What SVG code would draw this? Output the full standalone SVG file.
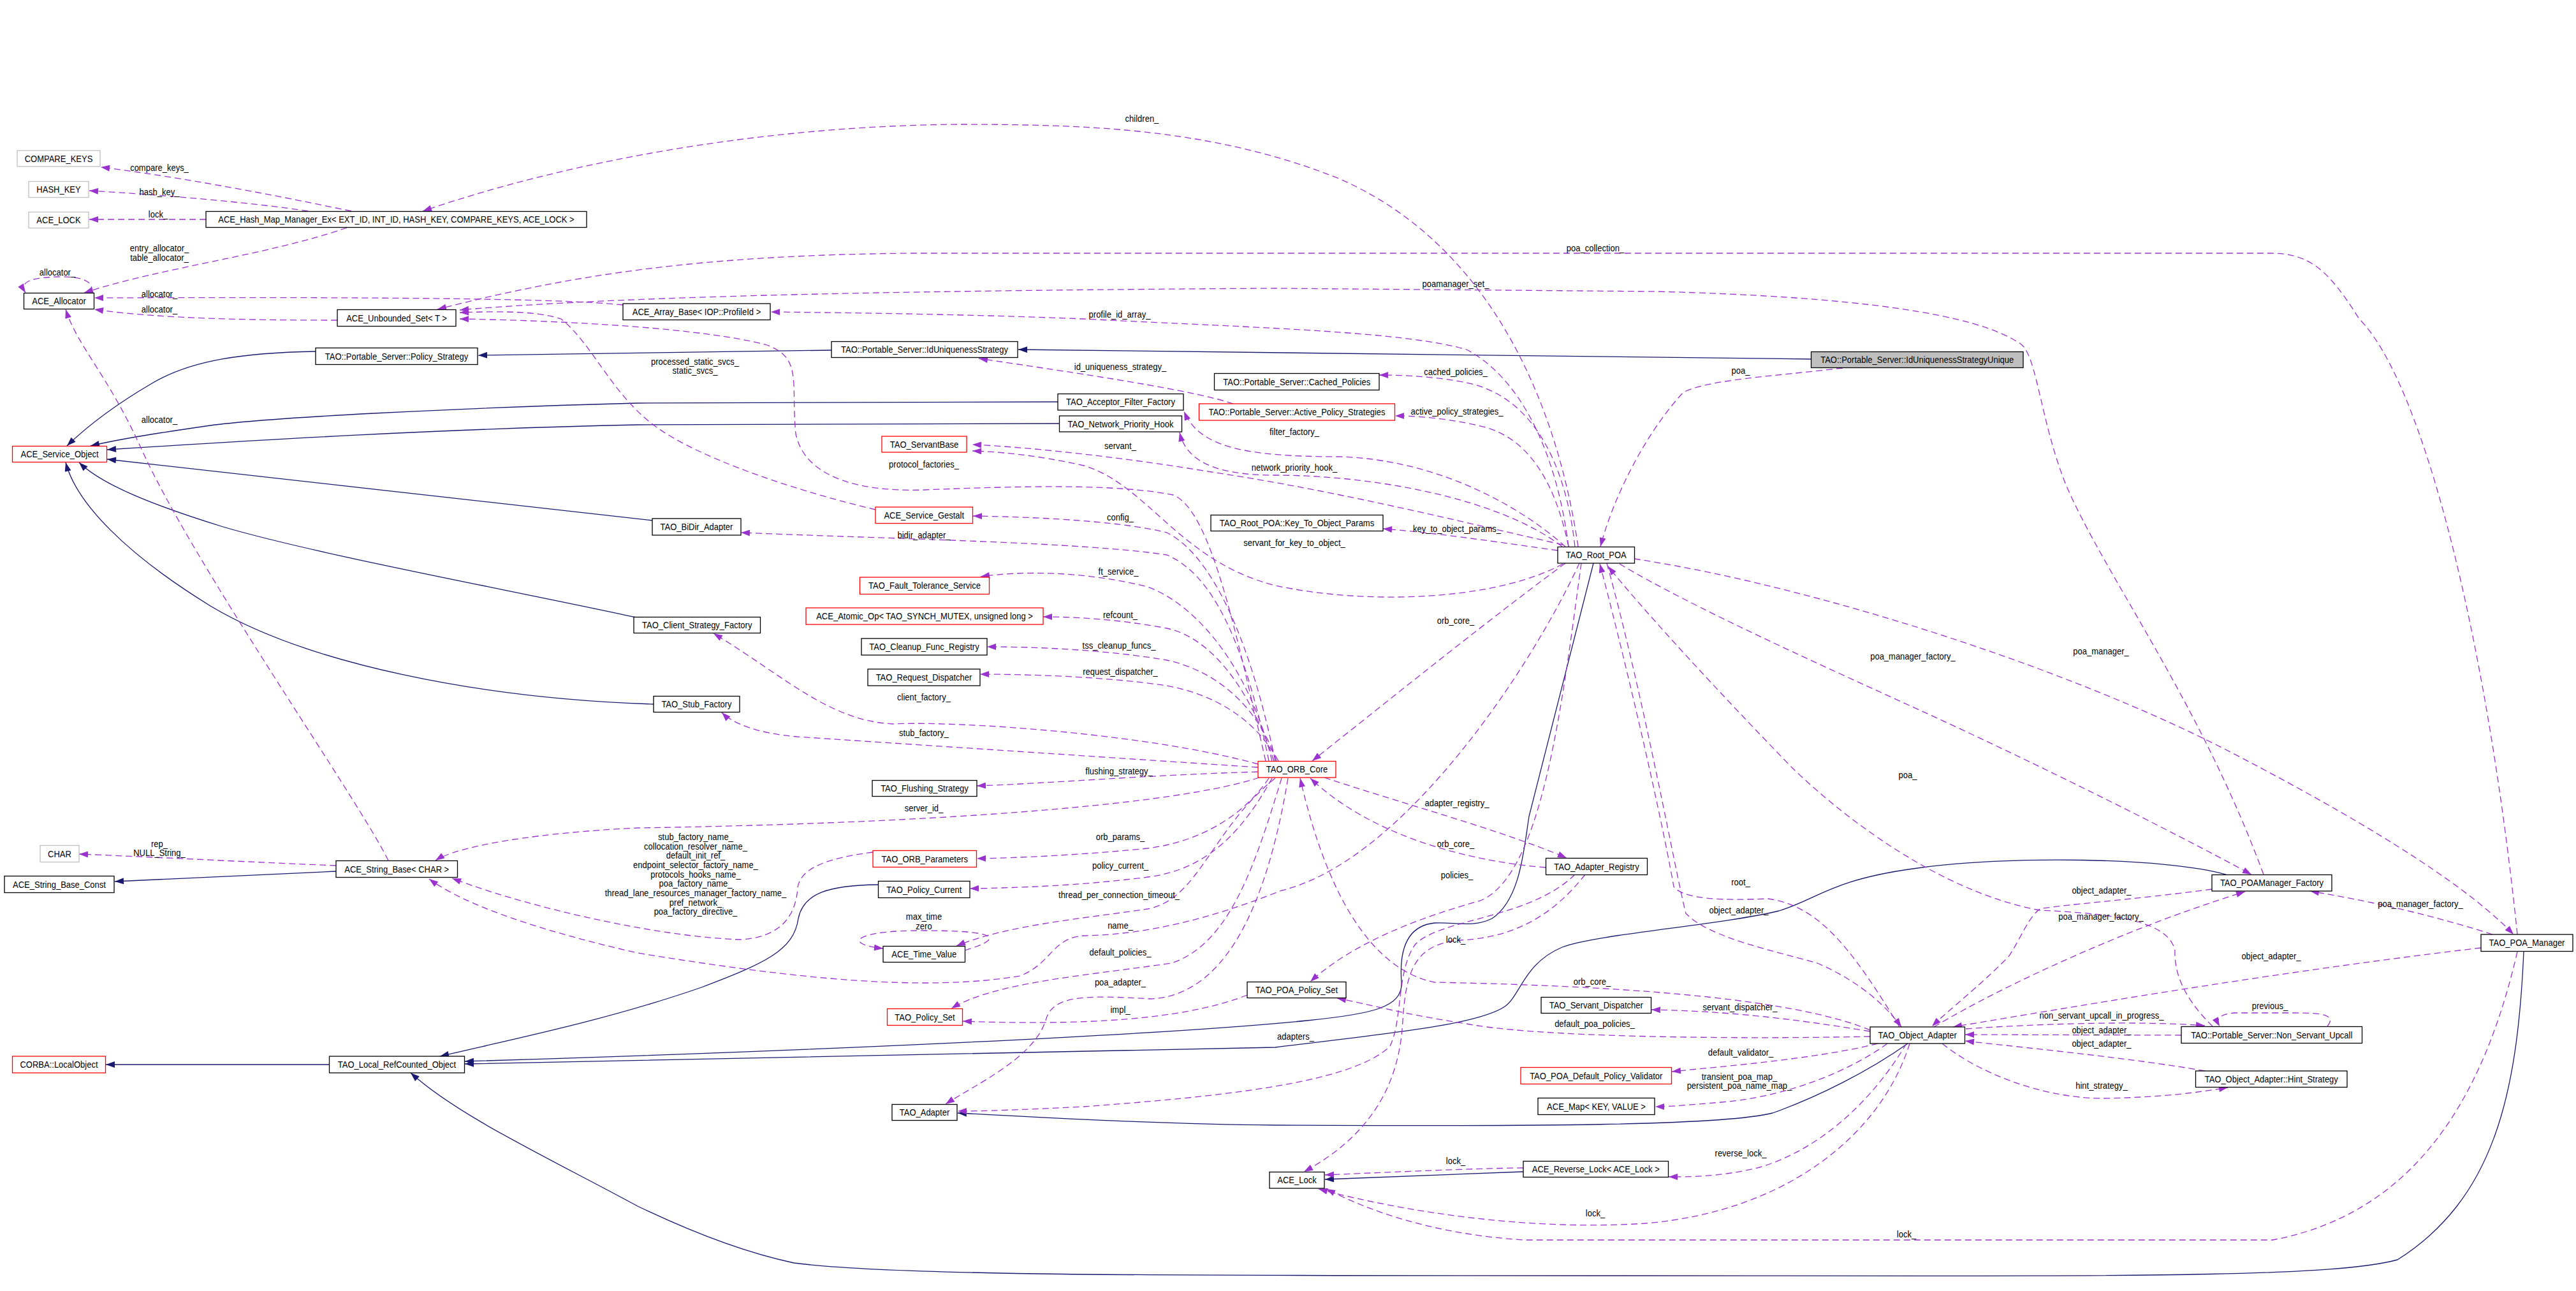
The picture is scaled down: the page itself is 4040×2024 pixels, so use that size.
<svg xmlns="http://www.w3.org/2000/svg" width="4040" height="2024" viewBox="0 0 4040 2024">
<style>
text{font-family:"Liberation Sans",Arial,sans-serif;font-size:13px;fill:#000;transform-box:fill-box;transform-origin:center;transform:scaleY(1.15)}
.n text{text-anchor:middle}
.b{fill:#fff;stroke:#000;stroke-width:1.3}
.r{fill:#fff;stroke:#f00;stroke-width:1.3}
.g{fill:#fff;stroke:#bfbfbf;stroke-width:1.3}
.s{fill:none;stroke:#191970;stroke-width:1.3}
.d{fill:none;stroke:#9a32cd;stroke-width:1.3;stroke-dasharray:10,6}
.l{text-anchor:middle}
</style>
<defs>
<marker id="ap" viewBox="0 0 14 10" refX="14" refY="5" markerWidth="15" markerHeight="10" markerUnits="userSpaceOnUse" orient="auto"><path d="M0,0 L14,5 L0,10 z" fill="#9a32cd"/></marker>
<marker id="ab" viewBox="0 0 14 10" refX="14" refY="5" markerWidth="15" markerHeight="10" markerUnits="userSpaceOnUse" orient="auto"><path d="M0,0 L14,5 L0,10 z" fill="#191970"/></marker>
</defs>
<rect width="4040" height="2024" fill="#fff"/>
<g id="connectors">
<path class="s" marker-end="url(#ab)" d="M2840,563 L1597,548"/>
<path class="s" marker-end="url(#ab)" d="M1304,549 L750,557"/>
<path class="s" marker-end="url(#ab)" d="M495,551 C380,553 300,565 240,600 C180,635 135,670 105,699"/>
<path class="s" marker-end="url(#ab)" d="M1659,630 L1000,632 C700,640 420,655 330,667 C240,680 190,688 142,699"/>
<path class="s" marker-end="url(#ab)" d="M1661,664 L1000,666 C700,672 400,690 168,705"/>
<path class="s" marker-end="url(#ab)" d="M1023,816 C800,790 500,756 168,720"/>
<path class="s" marker-end="url(#ab)" d="M998,968 C800,925 500,870 350,826 C240,792 160,760 124,725"/>
<path class="s" marker-end="url(#ab)" d="M1025,1104 C750,1095 480,1040 330,950 C200,870 120,790 103,725"/>
<path class="s" marker-end="url(#ab)" d="M527,1366 L180,1382"/>
<path class="s" marker-end="url(#ab)" d="M516,1669 L166,1669"/>
<path class="s" marker-end="url(#ab)" d="M1377,1387 C1300,1388 1260,1400 1252,1440 C1245,1490 1200,1510 1100,1548 C950,1600 800,1630 690,1656"/>
<path class="s" marker-end="url(#ab)" d="M2499,883 L2398,1280 C2390,1330 2385,1410 2340,1440 C2310,1455 2280,1445 2250,1447 C2200,1452 2195,1500 2198,1540 C2200,1580 2150,1590 2050,1600 C1800,1625 1200,1650 729,1664"/>
<path class="s" marker-end="url(#ab)" d="M3491,1371 C3400,1345 3150,1340 3000,1362 C2870,1380 2850,1410 2790,1428 C2700,1450 2500,1465 2450,1485 C2390,1510 2385,1560 2360,1578 C2320,1605 2200,1618 2000,1642 L729,1668"/>
<path class="s" marker-end="url(#ab)" d="M3958,1492 C3948,1720 3910,1880 3760,1975 C3650,2005 3300,2000 2500,2000 C1800,2000 1400,2000 1245,1980 C1150,1960 1050,1915 1000,1891 C850,1810 720,1750 644,1682"/>
<path class="s" marker-end="url(#ab)" d="M2992,1636 C2930,1680 2850,1720 2780,1745 C2700,1765 2400,1766 2000,1764 C1800,1762 1600,1750 1502,1745"/>
<path class="s" marker-end="url(#ab)" d="M2389,1837 L2078,1849"/>

<path class="d" marker-end="url(#ap)" d="M551,331 C450,310 300,280 158,262"/>
<text class="l" x="250" y="267">compare_keys_</text>
<path class="d" marker-end="url(#ap)" d="M483,331 C400,318 250,305 140,299"/>
<text class="l" x="250" y="305">hash_key_</text>
<path class="d" marker-end="url(#ap)" d="M323,344 L140,344"/>
<text class="l" x="248" y="340">lock_</text>
<path class="d" marker-end="url(#ap)" d="M544,357 C420,400 250,420 132,459"/>
<text class="l" x="250" y="393">entry_allocator_</text>
<text class="l" x="250" y="408">table_allocator_</text>
<path class="d" marker-end="url(#ap)" d="M143,459 C150,438 120,433 90,434 C55,435 28,440 40,459"/>
<text class="l" x="90" y="431">allocator_</text>
<path class="d" marker-end="url(#ap)" d="M977,478 C900,470 700,465 148,467"/>
<text class="l" x="250" y="465">allocator_</text>
<path class="d" marker-end="url(#ap)" d="M529,502 C400,502 250,500 148,485"/>
<text class="l" x="250" y="489">allocator_</text>
<path class="d" marker-end="url(#ap)" d="M609,1349 C560,1250 300,880 220,700 C170,590 120,540 103,485"/>
<text class="l" x="250" y="662">allocator_</text>
<path class="d" marker-end="url(#ap)" d="M527,1357 C400,1352 250,1344 124,1339"/>
<text class="l" x="250" y="1327">rep_</text>
<text class="l" x="250" y="1341">NULL_String_</text>

<path class="d" marker-end="url(#ap)" d="M2475,857 C2440,620 2330,380 2100,280 C1900,200 1700,195 1500,195 C1200,198 900,250 663,331"/>
<text class="l" x="1791" y="190">children_</text>
<path class="d" marker-end="url(#ap)" d="M3948,1465 C3900,1000 3800,600 3700,500 C3650,420 3620,397 3560,397 L1430,397 C1100,400 900,430 686,485"/>
<text class="l" x="2502" y="393">poa_collection_</text>
<path class="d" marker-end="url(#ap)" d="M3550,1371 C3450,1100 3300,900 3240,760 C3200,660 3195,560 3170,540 C3100,490 2900,465 2600,457 L2000,452 C1500,455 1000,462 721,486"/>
<text class="l" x="2283" y="449">poamanager_set_</text>
<path class="d" marker-end="url(#ap)" d="M1373,799 C1250,770 1100,720 1030,670 C960,620 930,540 880,500 C840,487 780,488 721,490"/>
<text class="l" x="1090" y="571">processed_static_svcs_</text>
<text class="l" x="1090" y="585">static_svcs_</text>
<path class="d" marker-end="url(#ap)" d="M1985,1193 C1940,1000 1900,800 1840,776 C1750,758 1600,762 1450,768 C1330,772 1260,740 1248,680 C1240,600 1260,560 1200,540 C1100,515 900,503 721,500"/>
<text class="l" x="1449" y="732">protocol_factories_</text>
<path class="d" marker-end="url(#ap)" d="M2460,857 C2440,700 2380,590 2300,548 C2200,520 2000,515 1700,500 C1500,492 1300,490 1209,489"/>
<text class="l" x="1756" y="497">profile_id_array_</text>
<path class="d" marker-end="url(#ap)" d="M1934,633 C1880,615 1760,595 1535,562"/>
<text class="l" x="1757" y="579">id_uniqueness_strategy_</text>
<path class="d" marker-end="url(#ap)" d="M2470,857 C2455,720 2400,620 2300,600 C2250,590 2200,588 2163,588"/>
<text class="l" x="2283" y="587">cached_policies_</text>
<path class="d" marker-end="url(#ap)" d="M2460,857 C2440,760 2400,690 2330,670 C2270,655 2220,652 2188,652"/>
<text class="l" x="2285" y="649">active_policy_strategies_</text>
<path class="d" marker-end="url(#ap)" d="M2455,857 C2380,790 2250,720 2100,716 C1950,716 1880,700 1857,645"/>
<text class="l" x="2030" y="681">filter_factory_</text>
<path class="d" marker-end="url(#ap)" d="M2450,857 C2350,780 2150,745 2000,745 C1900,745 1860,720 1850,678"/>
<text class="l" x="2030" y="737">network_priority_hook_</text>
<path class="d" marker-end="url(#ap)" d="M2451,854 C2300,820 2100,770 1900,740 C1750,715 1600,700 1525,697"/>
<text class="l" x="1757" y="703">servant_</text>
<path class="d" marker-end="url(#ap)" d="M2451,884 C2350,940 2150,950 2000,918 C1850,880 1800,760 1700,730 C1620,712 1560,708 1525,707"/>
<text class="l" x="2030" y="855">servant_for_key_to_object_</text>
<path class="d" marker-end="url(#ap)" d="M2890,577 C2780,590 2680,595 2640,615 C2580,680 2530,780 2510,857"/>
<text class="l" x="2730" y="585">poa_</text>
<path class="d" marker-end="url(#ap)" d="M2443,863 C2350,850 2250,835 2169,829"/>
<text class="l" x="2285" y="833">key_to_object_params_</text>

<path class="d" marker-end="url(#ap)" d="M2000,1193 C1960,1000 1900,870 1830,835 C1750,815 1600,810 1526,809"/>
<text class="l" x="1757" y="815">config_</text>
<path class="d" marker-end="url(#ap)" d="M1990,1193 C1950,1000 1900,900 1830,870 C1700,850 1400,845 1162,835"/>
<text class="l" x="1449" y="843">bidir_adapter_</text>
<path class="d" marker-end="url(#ap)" d="M1995,1193 C1960,1050 1880,950 1800,920 C1700,895 1600,895 1538,904"/>
<text class="l" x="1754" y="900">ft_service_</text>
<path class="d" marker-end="url(#ap)" d="M1998,1193 C1960,1080 1900,1000 1830,985 C1750,970 1680,967 1636,967"/>
<text class="l" x="1757" y="968">refcount_</text>
<path class="d" marker-end="url(#ap)" d="M2002,1193 C1970,1100 1900,1050 1830,1035 C1730,1018 1620,1014 1548,1014"/>
<text class="l" x="1755" y="1016">tss_cleanup_funcs_</text>
<path class="d" marker-end="url(#ap)" d="M2005,1193 C1970,1130 1910,1090 1830,1075 C1730,1060 1600,1057 1537,1057"/>
<text class="l" x="1757" y="1057">request_dispatcher_</text>
<path class="d" marker-end="url(#ap)" d="M1973,1198 C1800,1150 1500,1130 1400,1135 C1300,1130 1230,1060 1119,993"/>
<text class="l" x="1449" y="1097">client_factory_</text>
<path class="d" marker-end="url(#ap)" d="M1973,1203 C1700,1185 1400,1165 1250,1155 C1190,1150 1150,1135 1132,1117"/>
<text class="l" x="1449" y="1153">stub_factory_</text>
<path class="d" marker-end="url(#ap)" d="M1973,1210 C1800,1215 1650,1228 1532,1232"/>
<text class="l" x="1755" y="1213">flushing_strategy_</text>
<path class="d" marker-end="url(#ap)" d="M1975,1219 C1850,1260 1500,1290 1000,1298 C850,1305 720,1325 683,1349"/>
<text class="l" x="1449" y="1271">server_id_</text>
<path class="d" marker-end="url(#ap)" d="M2455,883 C2350,960 2200,1080 2058,1193"/>
<text class="l" x="2283" y="977">orb_core_</text>
<path class="d" marker-end="url(#ap)" d="M2077,1219 C2200,1260 2350,1300 2457,1345"/>
<text class="l" x="2285" y="1263">adapter_registry_</text>
<path class="d" marker-end="url(#ap)" d="M2424,1360 C2300,1350 2150,1310 2055,1220"/>
<text class="l" x="2283" y="1327">orb_core_</text>
<path class="d" marker-end="url(#ap)" d="M2480,883 C2450,1100 2420,1370 2322,1412 C2220,1440 2120,1480 2055,1539"/>
<text class="l" x="2285" y="1376">policies_</text>
<path class="d" marker-end="url(#ap)" d="M2486,1371 C2440,1430 2380,1470 2290,1474 C2220,1480 2205,1520 2200,1600 C2195,1700 2150,1780 2045,1837"/>
<text class="l" x="2283" y="1477">lock_</text>
<path class="d" marker-end="url(#ap)" d="M2470,1371 C2400,1440 2260,1440 2220,1480 C2190,1520 2200,1600 2180,1640 C2120,1700 1900,1720 1700,1735 C1600,1740 1540,1742 1502,1742"/>
<text class="l" x="2032" y="1629">adapters_</text>
<path class="d" marker-end="url(#ap)" d="M2979,1610 C2900,1480 2850,1420 2773,1409 C2700,1412 2640,1410 2625,1390 C2600,1250 2540,1000 2509,884"/>
<text class="l" x="2730" y="1387">root_</text>
<path class="d" marker-end="url(#ap)" d="M2520,883 C2580,1100 2630,1380 2644,1432 C2680,1470 2780,1490 2850,1510 C2920,1540 2960,1580 2982,1610"/>
<text class="l" x="2727" y="1431">object_adapter_</text>
<path class="d" marker-end="url(#ap)" d="M2933,1615 C2800,1560 2500,1545 2250,1540 C2150,1520 2080,1400 2039,1220"/>
<text class="l" x="2497" y="1543">orb_core_</text>
<path class="d" marker-end="url(#ap)" d="M2933,1617 C2800,1595 2700,1585 2590,1583"/>
<text class="l" x="2729" y="1583">servant_dispatcher_</text>
<path class="d" marker-end="url(#ap)" d="M2933,1625 C2700,1630 2400,1625 2300,1605 C2200,1590 2150,1575 2097,1565"/>
<text class="l" x="2501" y="1609">default_poa_policies_</text>
<path class="d" marker-end="url(#ap)" d="M2945,1636 C2850,1660 2700,1672 2622,1680"/>
<text class="l" x="2730" y="1654">default_validator_</text>
<path class="d" marker-end="url(#ap)" d="M2960,1636 C2900,1680 2800,1720 2700,1728 C2650,1732 2620,1735 2596,1735"/>
<text class="l" x="2728" y="1692">transient_poa_map_</text>
<text class="l" x="2728" y="1706">persistent_poa_name_map_</text>
<path class="d" marker-end="url(#ap)" d="M2990,1636 C2940,1720 2860,1800 2760,1830 C2700,1845 2650,1845 2617,1845"/>
<text class="l" x="2730" y="1812">reverse_lock_</text>
<path class="d" marker-end="url(#ap)" d="M2995,1636 C2950,1780 2800,1900 2580,1918 C2400,1930 2200,1900 2068,1864"/>
<text class="l" x="2502" y="1906">lock_</text>
<path class="d" marker-end="url(#ap)" d="M2389,1831 C2300,1832 2200,1837 2078,1842"/>
<text class="l" x="2283" y="1824">lock_</text>
<path class="d" marker-end="url(#ap)" d="M3948,1492 C3900,1700 3800,1900 3564,1944 L2390,1944 C2250,1935 2150,1900 2080,1864"/>
<text class="l" x="2990" y="1939">lock_</text>

<path class="d" marker-end="url(#ap)" d="M1369,1336 C1300,1345 1255,1360 1251,1392 C1248,1440 1220,1470 1161,1473 C1050,1470 850,1430 709,1377"/>
<text class="l" x="1091" y="1316">stub_factory_name_</text>
<text class="l" x="1091" y="1331">collocation_resolver_name_</text>
<text class="l" x="1091" y="1345">default_init_ref_</text>
<text class="l" x="1091" y="1360">endpoint_selector_factory_name_</text>
<text class="l" x="1091" y="1375">protocols_hooks_name_</text>
<text class="l" x="1091" y="1389">poa_factory_name_</text>
<text class="l" x="1091" y="1404">thread_lane_resources_manager_factory_name_</text>
<text class="l" x="1091" y="1419">pref_network_</text>
<text class="l" x="1091" y="1433">poa_factory_directive_</text>
<path class="d" marker-end="url(#ap)" d="M2477,883 C2400,1050 2200,1350 2010,1396 C1900,1440 1800,1465 1700,1467 C1650,1470 1650,1510 1600,1530 C1450,1555 1250,1535 1000,1494 C850,1460 730,1420 673,1378"/>
<text class="l" x="1757" y="1455">name_</text>
<path class="d" marker-end="url(#ap)" d="M1990,1220 C1950,1280 1880,1320 1800,1330 C1700,1340 1600,1345 1532,1346"/>
<text class="l" x="1757" y="1316">orb_params_</text>
<path class="d" marker-end="url(#ap)" d="M1995,1220 C1940,1320 1880,1365 1800,1375 C1700,1388 1600,1392 1521,1393"/>
<text class="l" x="1757" y="1361">policy_current_</text>
<path class="d" marker-end="url(#ap)" d="M2000,1220 C1900,1300 1880,1410 1800,1425 C1700,1440 1580,1450 1500,1483"/>
<text class="l" x="1755" y="1407">thread_per_connection_timeout_</text>
<path class="d" marker-end="url(#ap)" d="M1513,1490 C1580,1470 1560,1459 1450,1459 C1340,1458 1320,1480 1385,1487"/>
<text class="l" x="1449" y="1441">max_time</text>
<text class="l" x="1449" y="1456">zero</text>
<path class="d" marker-end="url(#ap)" d="M2010,1220 C1970,1350 1930,1480 1837,1510 C1700,1530 1560,1540 1492,1581"/>
<text class="l" x="1757" y="1497">default_policies_</text>
<path class="d" marker-end="url(#ap)" d="M2020,1220 C1990,1400 1930,1560 1805,1566 C1700,1560 1650,1560 1640,1600 C1620,1660 1530,1700 1483,1731"/>
<text class="l" x="1757" y="1544">poa_adapter_</text>
<path class="d" marker-end="url(#ap)" d="M1956,1560 C1880,1590 1750,1610 1510,1601"/>
<text class="l" x="1757" y="1587">impl_</text>

<path class="d" marker-end="url(#ap)" d="M2563,876 C2850,920 3250,1050 3500,1180 C3750,1310 3880,1400 3942,1465"/>
<text class="l" x="3295" y="1025">poa_manager_</text>
<path class="d" marker-end="url(#ap)" d="M2540,884 C2650,950 2850,1040 3010,1113 C3200,1200 3400,1300 3531,1371"/>
<text class="l" x="3000" y="1033">poa_manager_factory_</text>
<path class="d" marker-end="url(#ap)" d="M3470,1609 C3420,1560 3410,1520 3411,1490 C3400,1440 3300,1432 3199,1427 C3050,1400 2900,1290 2811,1204 C2700,1090 2580,960 2522,888"/>
<text class="l" x="2992" y="1219">poa_</text>
<path class="d" marker-end="url(#ap)" d="M3909,1465 C3800,1430 3700,1410 3623,1397"/>
<text class="l" x="3796" y="1421">poa_manager_factory_</text>
<path class="d" marker-end="url(#ap)" d="M3469,1394 C3350,1410 3220,1420 3199,1425 C3180,1440 3170,1470 3150,1500 C3100,1550 3060,1580 3030,1609"/>
<text class="l" x="3296" y="1400">object_adapter_</text>
<path class="d" marker-end="url(#ap)" d="M3033,1610 C3150,1540 3350,1450 3521,1398"/>
<text class="l" x="3295" y="1441">poa_manager_factory_</text>
<path class="d" marker-end="url(#ap)" d="M3891,1486 C3600,1520 3300,1570 3063,1610"/>
<text class="l" x="3562" y="1503">object_adapter_</text>
<path class="d" marker-end="url(#ap)" d="M3083,1613 C3200,1605 3350,1600 3458,1608"/>
<text class="l" x="3296" y="1596">non_servant_upcall_in_progress_</text>
<path class="d" marker-end="url(#ap)" d="M3421,1623 L3082,1622"/>
<text class="l" x="3296" y="1619">object_adapter_</text>
<path class="d" marker-end="url(#ap)" d="M3458,1679 C3350,1660 3200,1645 3082,1632"/>
<text class="l" x="3296" y="1640">object_adapter_</text>
<path class="d" marker-end="url(#ap)" d="M3046,1636 C3100,1680 3200,1722 3300,1722 C3400,1720 3450,1712 3494,1705"/>
<text class="l" x="3296" y="1706">hint_strategy_</text>
<path class="d" marker-end="url(#ap)" d="M3650,1609 C3665,1590 3640,1588 3597,1588 L3504,1588 C3480,1590 3475,1598 3481,1609"/>
<text class="l" x="3560" y="1581">previous_</text>
</g>

<g id="n1" class="n"><rect class="g" x="27" y="236" width="130" height="25"/><text x="92" y="253">COMPARE_KEYS</text></g>
<g id="n2" class="n"><rect class="g" x="45" y="284.5" width="94" height="25"/><text x="92" y="301.5">HASH_KEY</text></g>
<g id="n3" class="n"><rect class="g" x="45" y="332.5" width="94" height="25"/><text x="92" y="349.5">ACE_LOCK</text></g>
<g id="n4" class="n"><rect class="b" x="323" y="331.5" width="597" height="25"/><text x="621.5" y="348.5">ACE_Hash_Map_Manager_Ex&lt; EXT_ID, INT_ID, HASH_KEY, COMPARE_KEYS, ACE_LOCK &gt;</text></g>
<g id="n5" class="n"><rect class="b" x="37.5" y="459.5" width="110" height="25"/><text x="92.5" y="476.5">ACE_Allocator</text></g>
<g id="n6" class="n"><rect class="b" x="529" y="485.5" width="186" height="26"/><text x="622" y="503">ACE_Unbounded_Set&lt; T &gt;</text></g>
<g id="n7" class="n"><rect class="b" x="977" y="476" width="231" height="25.5"/><text x="1092.5" y="493">ACE_Array_Base&lt; IOP::ProfileId &gt;</text></g>
<g id="n8" class="n"><rect class="b" x="495" y="545.5" width="254" height="26"/><text x="622" y="563">TAO::Portable_Server::Policy_Strategy</text></g>
<g id="n9" class="n"><rect class="b" x="1304" y="535.5" width="292" height="25"/><text x="1450" y="552.5">TAO::Portable_Server::IdUniquenessStrategy</text></g>
<g id="n10" class="n"><rect x="2840.5" y="551.5" width="332.5" height="25" fill="#bfbfbf" stroke="#000" stroke-width="1.3"/><text x="3006.75" y="568.5">TAO::Portable_Server::IdUniquenessStrategyUnique</text></g>
<g id="n11" class="n"><rect class="b" x="1904.5" y="585.5" width="258.5" height="26"/><text x="2033.75" y="603">TAO::Portable_Server::Cached_Policies</text></g>
<g id="n12" class="n"><rect class="b" x="1659" y="617.5" width="197" height="25.5"/><text x="1757.5" y="634.5">TAO_Acceptor_Filter_Factory</text></g>
<g id="n13" class="n"><rect class="r" x="1880.5" y="633" width="307" height="26"/><text x="2034" y="650.5">TAO::Portable_Server::Active_Policy_Strategies</text></g>
<g id="n14" class="n"><rect class="b" x="1661.5" y="652" width="192" height="25"/><text x="1757.5" y="669">TAO_Network_Priority_Hook</text></g>
<g id="n15" class="n"><rect class="r" x="1383" y="684" width="133" height="25"/><text x="1449.5" y="701">TAO_ServantBase</text></g>
<g id="n16" class="n"><rect class="r" x="19.5" y="699.5" width="148" height="25"/><text x="93.5" y="716.5">ACE_Service_Object</text></g>
<g id="n17" class="n"><rect class="r" x="1373" y="795" width="152.5" height="25.5"/><text x="1449.25" y="812">ACE_Service_Gestalt</text></g>
<g id="n18" class="n"><rect class="b" x="1899" y="807.5" width="270" height="25"/><text x="2034" y="824.5">TAO_Root_POA::Key_To_Object_Params</text></g>
<g id="n19" class="n"><rect class="b" x="1023" y="813" width="139" height="26"/><text x="1092.5" y="830.5">TAO_BiDir_Adapter</text></g>
<g id="n20" class="n"><rect class="b" x="2443" y="857.5" width="120.5" height="25.5"/><text x="2503.25" y="874.5">TAO_Root_POA</text></g>
<g id="n21" class="n"><rect class="r" x="1348.5" y="905" width="203" height="26.5"/><text x="1450" y="922.5">TAO_Fault_Tolerance_Service</text></g>
<g id="n22" class="n"><rect class="r" x="1264" y="953" width="372" height="26"/><text x="1450" y="970.5">ACE_Atomic_Op&lt; TAO_SYNCH_MUTEX, unsigned long &gt;</text></g>
<g id="n23" class="n"><rect class="b" x="994" y="967.5" width="198.5" height="25"/><text x="1093.25" y="984.5">TAO_Client_Strategy_Factory</text></g>
<g id="n24" class="n"><rect class="b" x="1351" y="1001" width="197" height="26"/><text x="1449.5" y="1018.5">TAO_Cleanup_Func_Registry</text></g>
<g id="n25" class="n"><rect class="b" x="1361" y="1049" width="176" height="26"/><text x="1449" y="1066.5">TAO_Request_Dispatcher</text></g>
<g id="n26" class="n"><rect class="b" x="1025" y="1091.5" width="135" height="25"/><text x="1092.5" y="1108.5">TAO_Stub_Factory</text></g>
<g id="n27" class="n"><rect class="r" x="1973" y="1193.5" width="122" height="25.5"/><text x="2034" y="1210.5">TAO_ORB_Core</text></g>
<g id="n28" class="n"><rect class="b" x="1368" y="1223.5" width="164" height="25"/><text x="1450" y="1240.5">TAO_Flushing_Strategy</text></g>
<g id="n29" class="n"><rect class="g" x="63" y="1325.5" width="61" height="26"/><text x="93.5" y="1343">CHAR</text></g>
<g id="n30" class="n"><rect class="r" x="1369" y="1333.5" width="162.5" height="26"/><text x="1450.25" y="1351">TAO_ORB_Parameters</text></g>
<g id="n31" class="n"><rect class="b" x="2424.5" y="1345.5" width="159" height="26"/><text x="2504" y="1363">TAO_Adapter_Registry</text></g>
<g id="n32" class="n"><rect class="b" x="527" y="1349.5" width="190.5" height="26"/><text x="622.25" y="1367">ACE_String_Base&lt; CHAR &gt;</text></g>
<g id="n33" class="n"><rect class="b" x="3469" y="1371.5" width="188" height="25.5"/><text x="3563" y="1388.5">TAO_POAManager_Factory</text></g>
<g id="n34" class="n"><rect class="b" x="7" y="1373.5" width="172" height="26"/><text x="93" y="1391">ACE_String_Base_Const</text></g>
<g id="n35" class="n"><rect class="b" x="1377.5" y="1381.5" width="143.5" height="26"/><text x="1449.25" y="1399">TAO_Policy_Current</text></g>
<g id="n36" class="n"><rect class="b" x="3891" y="1465" width="144" height="26.5"/><text x="3963" y="1482.5">TAO_POA_Manager</text></g>
<g id="n37" class="n"><rect class="b" x="1385" y="1483.5" width="128.5" height="25"/><text x="1449.25" y="1500.5">ACE_Time_Value</text></g>
<g id="n38" class="n"><rect class="b" x="1956" y="1539.5" width="155" height="25"/><text x="2033.5" y="1556.5">TAO_POA_Policy_Set</text></g>
<g id="n39" class="n"><rect class="b" x="2417" y="1563.5" width="172.5" height="25"/><text x="2503.25" y="1580.5">TAO_Servant_Dispatcher</text></g>
<g id="n40" class="n"><rect class="r" x="1391.5" y="1581.5" width="118" height="26"/><text x="1450.5" y="1599">TAO_Policy_Set</text></g>
<g id="n41" class="n"><rect class="b" x="3421" y="1609.5" width="283.5" height="26"/><text x="3562.75" y="1627">TAO::Portable_Server::Non_Servant_Upcall</text></g>
<g id="n42" class="n"><rect class="b" x="2933" y="1610" width="148.5" height="26"/><text x="3007.25" y="1627.5">TAO_Object_Adapter</text></g>
<g id="n43" class="n"><rect class="r" x="19.5" y="1656" width="146" height="26"/><text x="92.5" y="1673.5">CORBA::LocalObject</text></g>
<g id="n44" class="n"><rect class="b" x="516.5" y="1656" width="212" height="26"/><text x="622.5" y="1673.5">TAO_Local_RefCounted_Object</text></g>
<g id="n45" class="n"><rect class="r" x="2385" y="1673.5" width="236.5" height="26"/><text x="2503.25" y="1691">TAO_POA_Default_Policy_Validator</text></g>
<g id="n46" class="n"><rect class="b" x="3443.5" y="1679" width="237.5" height="25.5"/><text x="3562.25" y="1696">TAO_Object_Adapter::Hint_Strategy</text></g>
<g id="n47" class="n"><rect class="b" x="2412" y="1721.5" width="183" height="26"/><text x="2503.5" y="1739">ACE_Map&lt; KEY, VALUE &gt;</text></g>
<g id="n48" class="n"><rect class="b" x="1399" y="1731.5" width="102" height="25"/><text x="1450" y="1748.5">TAO_Adapter</text></g>
<g id="n49" class="n"><rect class="b" x="2389" y="1820.5" width="227.5" height="25"/><text x="2502.75" y="1837.5">ACE_Reverse_Lock&lt; ACE_Lock &gt;</text></g>
<g id="n50" class="n"><rect class="b" x="1991" y="1837.5" width="86" height="25.5"/><text x="2034" y="1854.5">ACE_Lock</text></g>
</svg>
